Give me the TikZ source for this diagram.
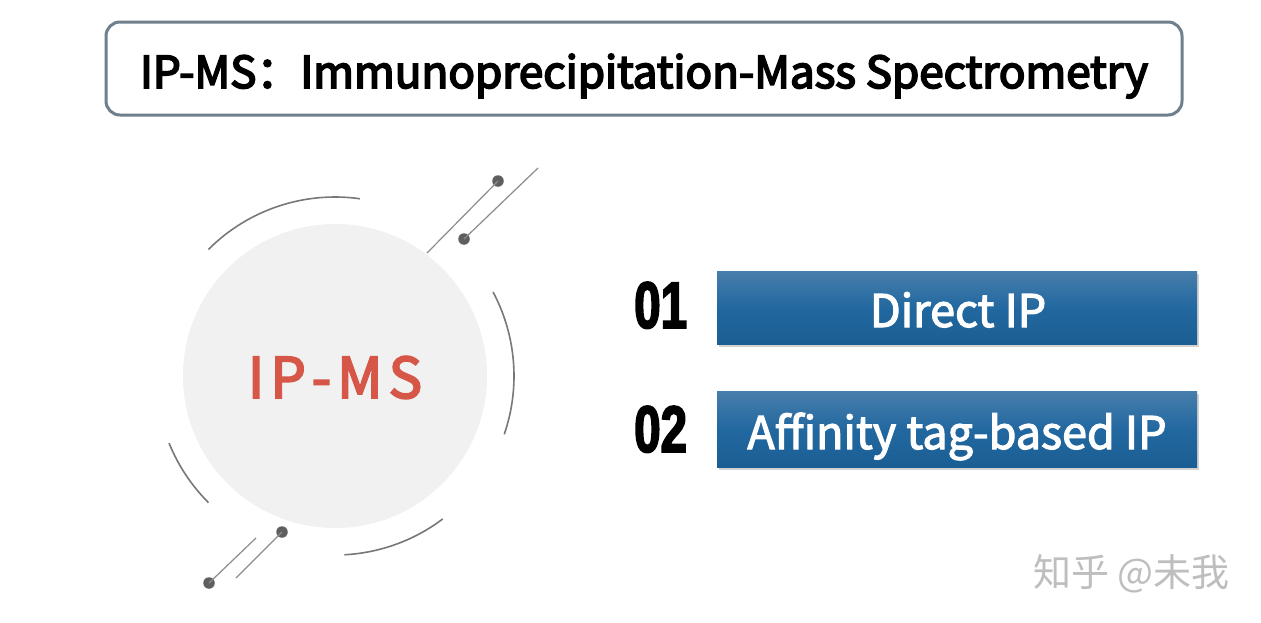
\documentclass[tikz,border=0pt]{standalone}
\usepackage{fontspec}
\setmainfont{Noto Sans CJK SC}
\newfontfamily\titlefont[FakeBold=4]{Noto Sans CJK SC}
\newfontfamily\medfont[FakeBold=2.5]{Noto Sans CJK SC}
\newfontfamily\redfont[FakeBold=3.5]{Noto Sans CJK SC}
\newfontfamily\numfont[FakeStretch=0.72,FakeBold=2.5]{Liberation Sans}
\usetikzlibrary{shadows,calc}
\definecolor{frame}{RGB}{110,128,142}
\definecolor{circfill}{RGB}{241,241,241}
\definecolor{ipred}{RGB}{214,86,72}
\definecolor{arcgrey}{RGB}{120,120,120}
\definecolor{dotgrey}{RGB}{95,95,95}
\definecolor{linegrey}{RGB}{140,140,140}
\definecolor{boxtop}{RGB}{72,126,172}
\definecolor{boxmid}{RGB}{34,104,160}
\definecolor{boxbot}{RGB}{26,94,147}
\definecolor{wm}{RGB}{190,190,190}
\tikzset{
  titlebox/.style={draw=frame, line width=3pt, rounded corners=14pt, fill=white},
  bluebox/.style={top color=boxtop, bottom color=boxbot, middle color=boxmid, draw=none,
     drop shadow={opacity=0.35, shadow xshift=1.5pt, shadow yshift=-3pt}},
  arcline/.style={draw=arcgrey, line width=1.6pt},
  thinline/.style={draw=linegrey, line width=1.2pt},
  dotnode/.style={circle, fill=dotgrey, inner sep=0pt, minimum size=11.5pt},
  numtxt/.style={font=\numfont\bfseries\fontsize{66}{66}\selectfont, text=black, inner sep=0pt, anchor=base west},
  boxtxt/.style={font=\medfont\fontsize{45}{50}\selectfont, text=white, inner sep=0pt, anchor=base},
}
\begin{document}
\begin{tikzpicture}[x=1pt,y=-1pt]
\useasboundingbox[fill=white] (0,0) rectangle (1261,622);
% title
\draw[titlebox] (106,22) rectangle (1182,115);
\node[font=\titlefont\fontsize{44}{50}\selectfont, inner sep=0pt, anchor=base] (title) at (644,88) {IP-MS：Immunoprecipitation-Mass Spectrometry};
% circle
\node[circle, fill=circfill, minimum size=304pt, inner sep=0pt] (circ) at (335,376) {};
\node[font=\redfont\fontsize{56}{60}\selectfont, text=ipred, inner sep=0pt, anchor=base] (ipms) at (335,398) {I\hspace{6pt}P\hspace{6pt}-\hspace{6pt}M\hspace{6pt}S};
% arcs around circle (radius 179), angles negated because y points down
\draw[arcline] ($(circ.center)+(-82:179)$) arc[start angle=-82, end angle=-135, radius=179];
\draw[arcline] ($(circ.center)+(19:179)$) arc[start angle=19, end angle=-28, radius=179];
\draw[arcline] ($(circ.center)+(-202:179)$) arc[start angle=-202, end angle=-225, radius=179];
\draw[arcline] ($(circ.center)+(-273:179)$) arc[start angle=-273, end angle=-307, radius=179];
% dotted lines
\node[dotnode] (d1) at (498,181) {};
\coordinate (e1) at (427,253);
\node[dotnode] (d2) at (464,239) {};
\coordinate (e2) at (538,168);
\node[dotnode] (d3) at (282,532) {};
\coordinate (e3) at (236,578);
\node[dotnode] (d4) at (209,583) {};
\coordinate (e4) at (256,538);
\draw[thinline] (d1.center) -- (e1);
\draw[thinline] (d2.center) -- (e2);
\draw[thinline] (d3.center) -- (e3);
\draw[thinline] (d4.center) -- (e4);
% numbers
\node[numtxt] (n1) at (634,328) {01};
\node[numtxt] (n2) at (634,452) {02};
% blue boxes
\path[bluebox] (717,271) rectangle (1197,344);
\path[bluebox] (717,391) rectangle (1197,467);
\node[boxtxt] (b1) at (958,327) {Direct IP};
\node[boxtxt] (b2) at (957,449) {Affinity tag-based IP};
% watermark
\node[font=\fontsize{38}{42}\selectfont, text=wm, inner sep=0pt, anchor=base west] (wmk) at (1033,586) {知乎 @未我};
\end{tikzpicture}
\end{document}
